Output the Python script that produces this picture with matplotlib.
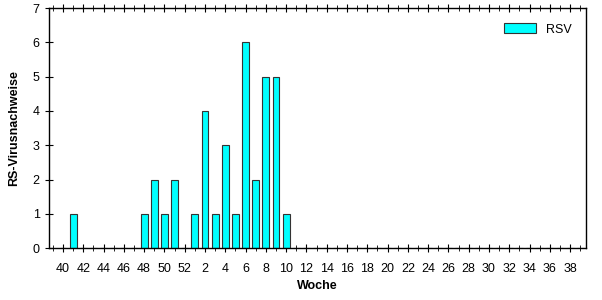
import matplotlib
matplotlib.use("Agg")
import matplotlib.pyplot as plt
import numpy as np

plt.rcParams['font.family'] = ['Liberation Sans', 'DejaVu Sans']

# Meldewochen der Saison (40..52, 1..39)
weeks = list(range(40, 53)) + list(range(1, 40))
rsv = [0, 1, 0, 0, 0, 0, 0, 0, 1, 2, 1, 2, 0,
       1, 4, 1, 3, 1, 6, 2, 5, 5, 1] + [0] * 29
tick_labels = [str(w) for w in weeks]

x = np.arange(len(weeks))

fig = plt.figure(figsize=(6.02, 3.0), dpi=100)
ax = fig.add_axes([0.081, 0.173, 0.893, 0.8])

ax.bar(x, rsv, width=0.68, color='#00ffff', edgecolor='#333333',
       linewidth=0.8, label='RSV', zorder=2)

ax.set_xlim(-1.4, len(weeks) - 0.4)
ax.set_ylim(0, 7)
ax.set_yticks(range(0, 8))

ax.set_xticks(x[::2])
ax.set_xticklabels(tick_labels[::2])
ax.set_xticks(np.arange(-1, len(weeks)), minor=True)

ax.tick_params(axis='x', which='major', direction='inout', length=6,
               labelsize=9, top=True, pad=8)
ax.tick_params(axis='x', which='minor', direction='inout', length=4, top=True)
ax.tick_params(axis='y', direction='inout', length=6, labelsize=9)

for s in ax.spines.values():
    s.set_linewidth(1.0)

ax.set_xlabel('Woche', fontweight='bold', fontsize=9, labelpad=3)
ax.set_ylabel('RS-Virusnachweise', fontweight='bold', fontsize=9, labelpad=9)

ax.legend(loc='upper right', frameon=False, fontsize=9,
          handlelength=2.5, handleheight=0.9, borderaxespad=0.8,
          bbox_to_anchor=(1.0, 1.0))

plt.savefig('out.png', dpi=100)
